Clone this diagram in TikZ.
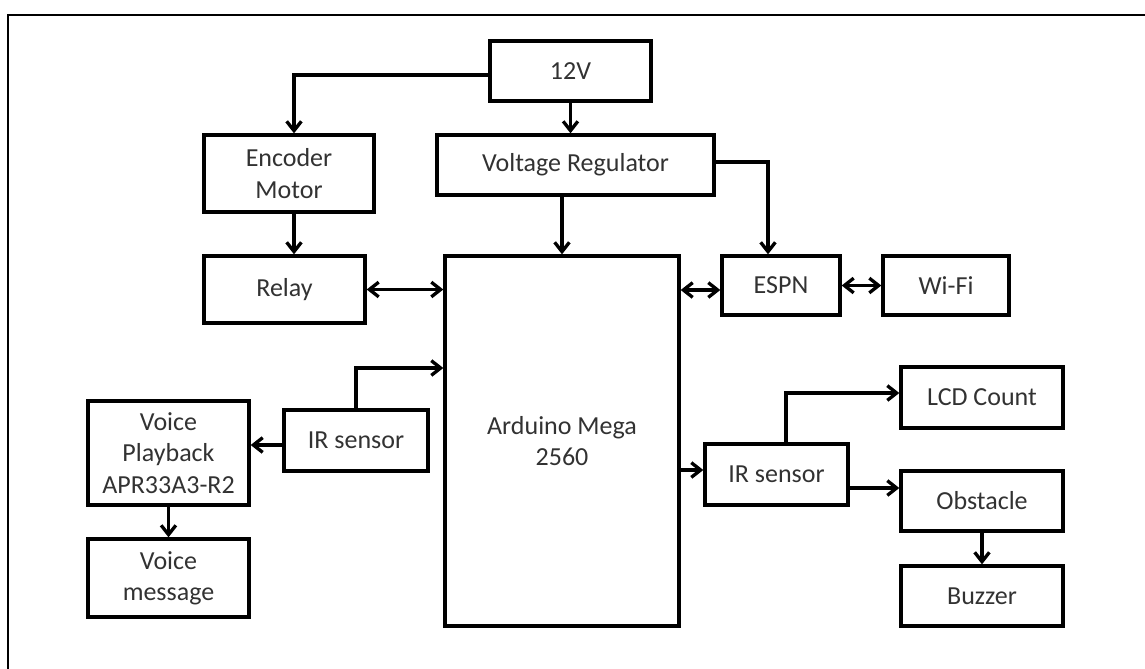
\documentclass[tikz,border=0pt]{standalone}
\usepackage{fontspec}
\setmainfont{Carlito}
\usetikzlibrary{arrows.meta,calc}
\definecolor{txt}{RGB}{50,50,50}
\tikzset{
  blk/.style={draw=black, line width=2.5pt, rectangle, inner sep=2pt, align=center,
    text=txt, font=\fontsize{19.5}{23.5}\selectfont},
  arr/.style={draw=black, line width=2.5pt, -{Straight Barb[length=7pt,width=11pt]}},
  dbl/.style={draw=black, line width=2.5pt, {Straight Barb[length=7pt,width=11pt]}-{Straight Barb[length=7pt,width=11pt]}},
  frame/.style={draw=black, line width=1.6pt}
}
\begin{document}
\begin{tikzpicture}[x=0.75pt,y=-0.75pt]
\useasboundingbox (0,0) rectangle (1145,668);
\clip (0,0) rectangle (1145,668);
\draw[frame] (8,680) -- (8,15) -- (1160,15);

% boxes
\node[blk, minimum width=120.75pt, minimum height=45pt]   (v12)   at (570.5,71)  {12V};
\node[blk, minimum width=127.5pt, minimum height=57.75pt] (enc)   at (289,173.5) {Encoder\\Motor};
\node[blk, minimum width=207.75pt, minimum height=45pt]   (vr)    at (575.5,165) {Voltage Regulator};
\node[blk, minimum width=120.75pt, minimum height=50.25pt](relay) at (284.5,289.5){Relay};
\node[blk, minimum width=175.5pt, minimum height=277.5pt] (ard)   at (562,441)   {Arduino Mega\\2560};
\node[blk, minimum width=88.5pt, minimum height=44.25pt]  (espn)  at (781,285.5) {ESPN};
\node[blk, minimum width=94.5pt, minimum height=44.25pt]  (wifi)  at (946,285.5) {Wi-Fi};
\node[blk, minimum width=108pt, minimum height=45.75pt]   (irl)   at (356,440.5) {IR sensor};
\node[blk, minimum width=120.75pt, minimum height=78pt]   (vp)    at (168.5,453) {Voice\\Playback\\APR33A3-R2};
\node[blk, minimum width=120.75pt, minimum height=58.5pt] (vm)    at (168.5,578) {Voice\\message};
\node[blk, minimum width=107.25pt, minimum height=45.75pt](irr)   at (776.5,474.5){IR sensor};
\node[blk, minimum width=121.5pt, minimum height=45.75pt] (lcd)   at (982,397.5) {LCD Count};
\node[blk, minimum width=121.5pt, minimum height=45pt]    (obs)   at (982,501)   {Obstacle};
\node[blk, minimum width=121.5pt, minimum height=45pt]    (buz)   at (982,596)   {Buzzer};

% connectors
\draw[arr] ([yshift=-3pt]v12.west) -| ([xshift=3.75pt]enc.north);
\draw[arr] (v12.south) -- (v12.south |- vr.north);
\draw[arr] (vr.south -| ard.north) -- (ard.north);
\draw[arr] ([yshift=2.25pt]vr.east) -| ([xshift=-9.75pt]espn.north);
\draw[arr] ([xshift=3.75pt]enc.south) -- ([xshift=3.75pt]enc.south |- relay.north);
\draw[dbl] (relay.east) -- (relay.east -| ard.west);
\draw[dbl] ([yshift=-3.375pt]espn.west -| ard.east) -- ([yshift=-3.375pt]espn.west);
\draw[dbl] (espn.east) -- (wifi.west);
\draw[arr] (irl.north) |- ([yshift=54.75pt]ard.west);
\draw[arr] ([yshift=-3.375pt]irl.west) -- ([yshift=-3.375pt]irl.west -| vp.east);
\draw[arr] (vp.south) -- (vm.north);
\draw[arr] ([yshift=3.375pt]irr.west -| ard.east) -- ([yshift=3.375pt]irr.west);
\draw[arr] ([xshift=7.125pt]irr.north) |- ([yshift=3.375pt]lcd.west);
\draw[arr] ([yshift=-10.125pt]irr.east) -- ([yshift=-10.125pt]irr.east -| obs.west);
\draw[arr] (obs.south) -- (buz.north);
\end{tikzpicture}
\end{document}
